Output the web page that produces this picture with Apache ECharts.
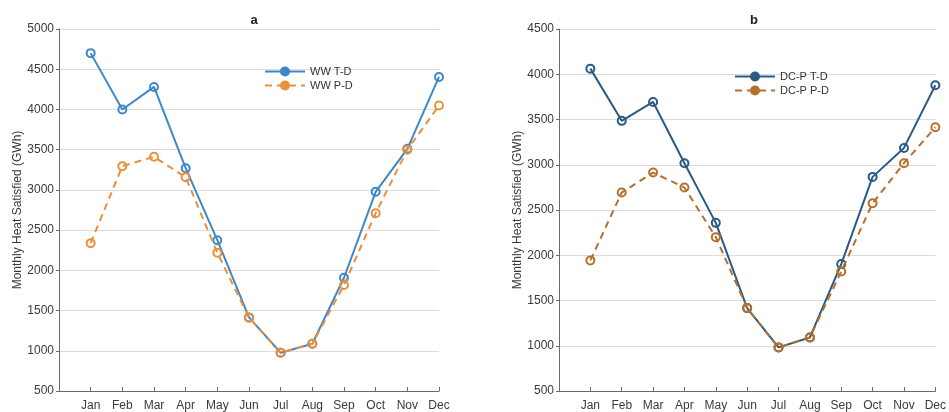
<!DOCTYPE html>
<html>
<head>
<meta charset="utf-8">
<script src="https://cdn.jsdelivr.net/npm/echarts@6/dist/echarts.min.js"></script>
<style>
  html, body { margin: 0; padding: 0; background: #ffffff; }
  #chart { width: 949px; height: 412px; }
</style>
</head>
<body>
<div id="chart"></div>
<script>
// Month labels for the x axis
const months = ['Jan', 'Feb', 'Mar', 'Apr', 'May', 'Jun', 'Jul', 'Aug', 'Sep', 'Oct', 'Nov', 'Dec'];

// Panel a: WW scheme, monthly heat satisfied (GWh)
const wwTD = [4700, 4000, 4280, 3270, 2375, 1415, 976, 1088, 1908, 2976, 3510, 4404];
const wwPD = [2338, 3295, 3411, 3158, 2218, 1412, 975, 1088, 1817, 2711, 3500, 4048];

// Panel b: DC-P scheme, monthly heat satisfied (GWh)
const dcTD = [4062, 3485, 3694, 3017, 2358, 1416, 982, 1092, 1902, 2866, 3186, 3878];
const dcPD = [1943, 2693, 2914, 2748, 2200, 1416, 980, 1092, 1821, 2575, 3017, 3415];

// Y axis ranges per panel
const yRangeA = { min: 500, max: 5000, interval: 500 };
const yRangeB = { min: 500, max: 4500, interval: 500 };

const yLabel = 'Monthly Heat Satisfied (GWh)';
const fontFamily = 'Liberation Sans, Arial, sans-serif';

function toPoints(values) {
  return values.map((v, i) => [i + 1, v]);
}

function xAxis(gridIndex) {
  return {
    type: 'value', gridIndex: gridIndex,
    min: 0, max: 12, interval: 1,
    axisLine: { show: true, lineStyle: { color: '#6b6b6b', width: 1 } },
    axisTick: { show: true, inside: true, length: 4, lineStyle: { color: '#6b6b6b' } },
    axisLabel: {
      margin: 9, color: '#3a3a3a', fontSize: 12, fontFamily: fontFamily,
      formatter: v => (v >= 1 && v <= 12 ? months[v - 1] : '')
    },
    splitLine: { show: false }
  };
}

function yAxis(gridIndex, range) {
  return {
    type: 'value', gridIndex: gridIndex,
    min: range.min, max: range.max, interval: range.interval,
    name: yLabel, nameLocation: 'middle', nameGap: 32,
    nameTextStyle: { color: '#3a3a3a', fontSize: 12, fontFamily: fontFamily },
    axisLine: { show: true, lineStyle: { color: '#6b6b6b', width: 1 } },
    axisTick: { show: true, length: 3, lineStyle: { color: '#6b6b6b' } },
    axisLabel: {
      margin: 5, color: '#3a3a3a', fontSize: 12, fontFamily: fontFamily,
      formatter: v => String(v)
    },
    splitLine: { show: true, lineStyle: { color: '#dcdcdc', width: 1 } }
  };
}

function lineSeries(name, values, color, dashed, idx) {
  return {
    name: name, type: 'line',
    xAxisIndex: idx, yAxisIndex: idx,
    data: toPoints(values),
    symbol: 'circle', symbolSize: 8,
    showSymbol: true,
    lineStyle: { color: color, width: 2, type: dashed ? [7, 5] : 'solid' },
    itemStyle: { color: 'rgba(255,255,255,0)', borderColor: color, borderWidth: 2 },
    emphasis: { disabled: true },
    z: dashed ? 3 : 2
  };
}

function legend(left, top, names, colors) {
  return {
    orient: 'vertical', left: left, top: top,
    itemWidth: 40, itemHeight: 10, itemGap: 3,
    data: names.map((n, i) => ({ name: n, itemStyle: { color: colors[i], borderColor: colors[i] } })),
    textStyle: { color: '#333333', fontSize: 11, fontFamily: fontFamily },
    selectedMode: false
  };
}

const cWW = '#3d88c8', cWWp = '#e8903a';
const cDC = '#2b5a86', cDCp = '#b5702c';

const chart = echarts.init(document.getElementById('chart'), null, { renderer: 'canvas' });
chart.setOption({
  backgroundColor: '#ffffff',
  animation: false,
  title: [
    { text: 'a', left: 249, top: 9, textAlign: 'center',
      textStyle: { fontSize: 13, fontWeight: 'bold', color: '#222', fontFamily: fontFamily } },
    { text: 'b', left: 749, top: 9, textAlign: 'center',
      textStyle: { fontSize: 13, fontWeight: 'bold', color: '#222', fontFamily: fontFamily } }
  ],
  grid: [
    { left: 59, right: 510, top: 29, bottom: 21 },
    { left: 559, right: 10, top: 29, bottom: 21 }
  ],
  legend: [
    legend(259, 61, ['WW T-D', 'WW P-D'], [cWW, cWWp]),
    legend(729, 66, ['DC-P T-D', 'DC-P P-D'], [cDC, cDCp])
  ],
  xAxis: [xAxis(0), xAxis(1)],
  yAxis: [yAxis(0, yRangeA), yAxis(1, yRangeB)],
  series: [
    lineSeries('WW T-D', wwTD, cWW, false, 0),
    lineSeries('WW P-D', wwPD, cWWp, true, 0),
    lineSeries('DC-P T-D', dcTD, cDC, false, 1),
    lineSeries('DC-P P-D', dcPD, cDCp, true, 1)
  ]
});
</script>
</body>
</html>
